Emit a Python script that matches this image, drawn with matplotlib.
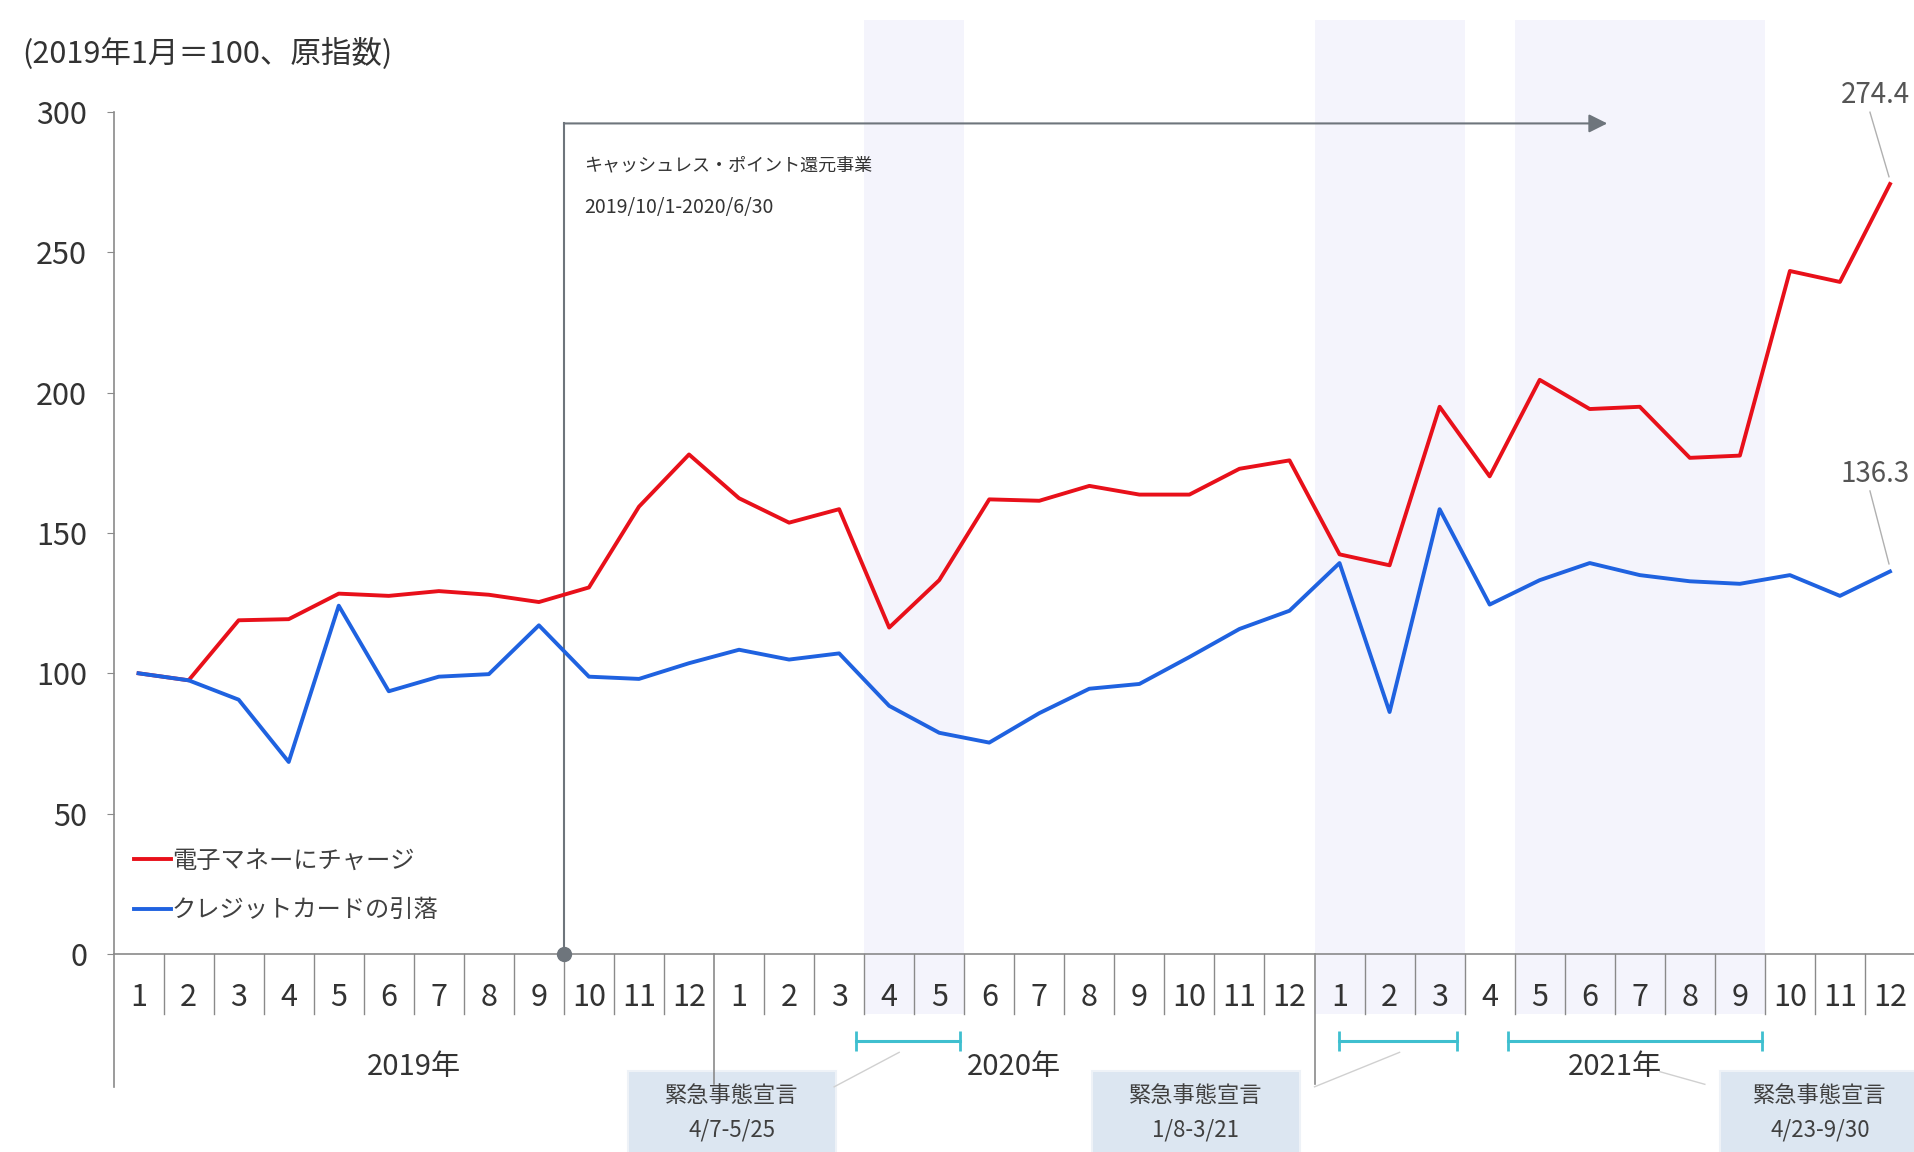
import matplotlib.pyplot as plt
import matplotlib.transforms as mtransforms
from matplotlib.patches import Rectangle

plt.rcParams['font.family'] = ['Noto Sans CJK JP', 'DejaVu Sans']

# data (2019/1 - 2021/12, 2019年1月=100)
months = [str(m) for m in range(1, 13)] * 3
years = ["2019年", "2020年", "2021年"]
e_money = [100, 97.5, 118.9, 119.3, 128.4, 127.6, 129.3, 128.0, 125.4, 130.6, 159.4, 178.0,
           162.4, 153.7, 158.5, 116.3, 133.2, 162.0, 161.5, 166.8, 163.7, 163.7, 172.9, 175.9,
           142.4, 138.5, 195.0, 170.2, 204.6, 194.2, 195.0, 176.8, 177.6, 243.4, 239.5, 274.4]
credit = [100, 97.5, 90.6, 68.4, 124.1, 93.6, 98.8, 99.7, 117.1, 98.8, 98.0, 103.6,
          108.4, 104.9, 107.1, 88.4, 78.8, 75.3, 85.8, 94.5, 96.2, 105.8, 115.8, 122.3,
          139.3, 86.2, 158.5, 124.5, 133.2, 139.3, 135.0, 132.8, 131.9, 135.0, 127.6, 136.3]
series_names = ["電子マネーにチャージ", "クレジットカードの引落"]
# emergency declarations (month index, fractional)
emerg_spans = [(14.5, 16.5), (23.5, 26.5), (27.5, 32.5)]
emerg_bars = [(14.34, 16.41), (23.98, 26.34), (27.37, 32.44)]
emerg_labels = ["緊急事態宣言\n4/7-5/25", "緊急事態宣言\n1/8-3/21", "緊急事態宣言\n4/23-9/30"]
emerg_boxes = [(9.78, 13.93), (19.05, 23.2), (31.6, 35.6)]

x = list(range(len(months)))
gray = "#6e757c"
txt = "#333333"

fig = plt.figure(figsize=(19.15, 11.52), dpi=100)
ax = fig.add_axes([0.0593, 0.172, 0.9407, 0.7306])
ax.set_xlim(-0.5, 35.5)
ax.set_ylim(0, 300)
trans = mtransforms.blended_transform_factory(ax.transData, ax.transAxes)

# shaded periods
for a, b in emerg_spans:
    ax.add_patch(Rectangle((a, -0.071), b - a, 1.18, transform=trans,
                           facecolor="#f4f4fc", edgecolor="none", zorder=0, clip_on=False))

ax.plot(x, e_money, color="#e8101a", lw=2.8, label=series_names[0], zorder=4, clip_on=False)
ax.plot(x, credit, color="#1f62e0", lw=2.8, label=series_names[1], zorder=4, clip_on=False)

# spines / ticks
for s in ["top", "right"]:
    ax.spines[s].set_visible(False)
ax.spines["left"].set_color("#8a8a8a")
ax.spines["bottom"].set_color("#8a8a8a")
ax.spines["left"].set_linewidth(1.2)
ax.spines["bottom"].set_linewidth(1.2)
ax.set_yticks([0, 50, 100, 150, 200, 250, 300])
ax.tick_params(axis="y", labelsize=22, colors="#8a8a8a", labelcolor=txt, length=5, pad=14)
ax.set_xticks(x)
ax.set_xticklabels(months)
ax.tick_params(axis="x", length=0, labelsize=22, labelcolor=txt, pad=20)

# month dividers and year dividers
for k in range(36):
    b = k + 0.5
    if b in (11.5, 23.5):
        ax.plot([b, b], [0, -0.155], transform=trans, color="#8a8a8a", lw=1.2, clip_on=False)
    elif b < 35.5:
        ax.plot([b, b], [0, -0.071], transform=trans, color="#8a8a8a", lw=1.0, clip_on=False)
ax.plot([-0.5, -0.5], [0, -0.158], transform=trans, color="#8a8a8a", lw=1.2, clip_on=False)
for i, yl in enumerate(years):
    ax.text(5.5 + 12 * i, -0.134, yl, transform=trans, ha="center", va="center",
            fontsize=21, color=txt)

# cashless point program
ax.plot([8.5, 8.5], [0, 296], color=gray, lw=1.5, zorder=3)
ax.annotate("", xy=(29.35, 296), xytext=(8.5, 296),
            arrowprops=dict(arrowstyle="-|>", color=gray, lw=1.5, mutation_scale=28,
                            shrinkA=0, shrinkB=0), zorder=3)
ax.plot([8.5], [0], marker="o", ms=10, color=gray, zorder=6, clip_on=False)
ax.text(8.9, 281, "キャッシュレス・ポイント還元事業", fontsize=13, color=txt, va="center")
ax.text(8.9, 266, "2019/10/1-2020/6/30", fontsize=14, color=txt, va="center")

# emergency declaration bars and boxes
for (a, b) in emerg_bars:
    ax.plot([a, b], [-0.103, -0.103], transform=trans, color="#3fbfcf", lw=2.2,
            marker="|", ms=14, mew=2, clip_on=False)
for (a, b), lab in zip(emerg_boxes, emerg_labels):
    ax.add_patch(Rectangle((a, -0.26), b - a, 0.121, transform=trans,
                           facecolor="#dce6f1", edgecolor="#eef2f7", lw=1.5, clip_on=False))
    line1, line2 = lab.split("\n")
    ax.text((a + b) / 2, -0.168, line1, transform=trans, ha="center", va="center",
            fontsize=16, color="#404040")
    ax.text((a + b) / 2, -0.209, line2, transform=trans, ha="center", va="center",
            fontsize=16, color="#404040")
# faint leader lines to boxes
ax.plot([13.9, 15.2], [-0.158, -0.117], transform=trans, color="#d0d0d0", lw=1, clip_on=False)
ax.plot([23.5, 25.2], [-0.158, -0.117], transform=trans, color="#d0d0d0", lw=1, clip_on=False)
ax.plot([30.4, 31.3], [-0.14, -0.155], transform=trans, color="#d0d0d0", lw=1, clip_on=False)

# end value labels
ax.plot([34.6, 34.98], [300, 277], color="#b0b0b0", lw=1, clip_on=False)
ax.text(34.7, 306, f"{e_money[-1]:.1f}", fontsize=20, color="#555555", ha="center",
        va="center", clip_on=False)
ax.plot([34.6, 34.98], [165, 139], color="#b0b0b0", lw=1, clip_on=False)
ax.text(34.7, 171, f"{credit[-1]:.1f}", fontsize=20, color="#555555", ha="center",
        va="center", clip_on=False)

ax.legend(loc="lower left", bbox_to_anchor=(0.006, 0.025), frameon=False, fontsize=17.5,
          handlelength=1.5, handletextpad=0.05, labelspacing=0.95, borderaxespad=0,
          labelcolor="#404040")

fig.text(0.0115, 0.953, "(2019年1月＝100、原指数)", fontsize=22, color=txt, va="center")

fig.savefig("out.png", dpi=100)
